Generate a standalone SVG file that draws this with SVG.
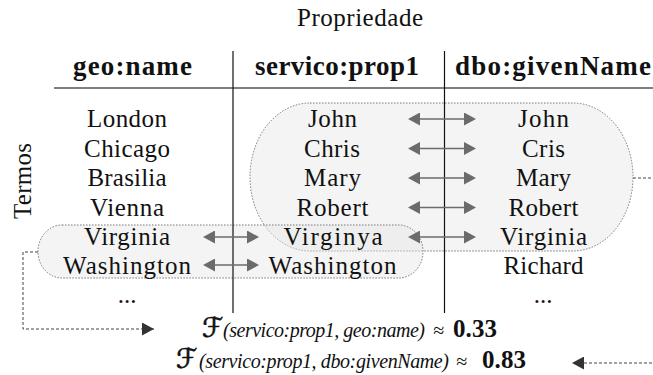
<svg xmlns="http://www.w3.org/2000/svg" width="653" height="375" viewBox="0 0 653 375">
  <style>
    .t { font-family: "Liberation Serif", "Times New Roman", serif; font-size: 25px; fill: #111; }
    .hd { font-family: "Liberation Serif", "Times New Roman", serif; font-size: 27px; font-weight: bold; fill: #111; }
    .it { font-family: "Liberation Serif", "Times New Roman", serif; font-size: 20px; font-style: italic; fill: #111; }
    .bd { font-family: "Liberation Serif", "Times New Roman", serif; font-size: 25px; font-weight: bold; fill: #111; }
    .cal { font-family: "DejaVu Serif", "DejaVu Sans", serif; font-size: 27px; fill: #111; stroke: #111; stroke-width: 0.6; }
    .blob { fill: #e6e6e6; fill-opacity: 0.45; stroke: #777; stroke-width: 1; stroke-dasharray: 1.5 1.5; }
    .rule { stroke: #111; stroke-width: 1.2; }
    .pair { stroke: #6b6b6b; stroke-width: 1.6; fill: none; marker-start: url(#pairHead); marker-end: url(#pairHead); }
    .link { stroke: #444; stroke-width: 1; stroke-dasharray: 3 2; fill: none; marker-end: url(#linkHead); }
  </style>
  <defs>
    <marker id="pairHead" markerUnits="userSpaceOnUse" markerWidth="12" markerHeight="13" refX="9" refY="6.5" orient="auto-start-reverse">
      <path d="M0,0 L12,6.5 L0,13 Z" fill="#6b6b6b"/>
    </marker>
    <marker id="linkHead" markerUnits="userSpaceOnUse" markerWidth="12" markerHeight="13" refX="12" refY="6.5" orient="auto">
      <path d="M0,0 L12,6.5 L0,13 Z" fill="#333"/>
    </marker>
  </defs>

  <!-- grouping blobs -->
  <g id="group-names">
    <rect class="blob" x="250" y="103" width="383" height="148" rx="60" ry="74"/>
  </g>
  <g id="group-places">
    <rect class="blob" x="38" y="225" width="385" height="53" rx="24" ry="26.5"/>
  </g>

  <!-- table frame -->
  <g id="table-frame">
    <line x1="54" y1="88" x2="653" y2="88" stroke="#555" stroke-width="1.6"/>
    <line class="rule" x1="233" y1="51" x2="233" y2="313"/>
    <line class="rule" x1="444.5" y1="51" x2="444.5" y2="313"/>
  </g>

  <g id="title">
    <text class="t" x="297" y="26" textLength="126" lengthAdjust="spacing">Propriedade</text>
  </g>
  <g id="axis-terms">
    <text class="t" transform="translate(31,181) rotate(-90)" x="-38" y="0" textLength="76" lengthAdjust="spacing">Termos</text>
  </g>

  <g id="col-geo">
    <text class="hd" x="73" y="75" textLength="119" lengthAdjust="spacing">geo:name</text>
    <text class="t" x="87" y="127" textLength="80" lengthAdjust="spacing">London</text>
    <text class="t" x="84" y="156.5" textLength="86" lengthAdjust="spacing">Chicago</text>
    <text class="t" x="87.5" y="186" textLength="79" lengthAdjust="spacing">Brasilia</text>
    <text class="t" x="90" y="215.5" textLength="74" lengthAdjust="spacing">Vienna</text>
    <text class="t" x="84" y="245" textLength="86" lengthAdjust="spacing">Virginia</text>
    <text class="t" x="63" y="274" textLength="128" lengthAdjust="spacing">Washington</text>
    <text class="t" x="127" y="303" text-anchor="middle">...</text>
  </g>

  <g id="col-servico">
    <text class="hd" x="255" y="75" textLength="164" lengthAdjust="spacing">servico:prop1</text>
    <text class="t" x="308" y="127" textLength="49" lengthAdjust="spacing">John</text>
    <text class="t" x="304" y="156.5" textLength="56" lengthAdjust="spacing">Chris</text>
    <text class="t" x="304" y="186" textLength="57" lengthAdjust="spacing">Mary</text>
    <text class="t" x="296.5" y="215.5" textLength="72" lengthAdjust="spacing">Robert</text>
    <text class="t" x="283.5" y="245" textLength="99" lengthAdjust="spacing">Virginya</text>
    <text class="t" x="268.5" y="274" textLength="128" lengthAdjust="spacing">Washington</text>
  </g>

  <g id="col-dbo">
    <text class="hd" x="455" y="75" textLength="196" lengthAdjust="spacing">dbo:givenName</text>
    <text class="t" x="518" y="127" textLength="51" lengthAdjust="spacing">John</text>
    <text class="t" x="522" y="156.5" textLength="43" lengthAdjust="spacing">Cris</text>
    <text class="t" x="516" y="186" textLength="55" lengthAdjust="spacing">Mary</text>
    <text class="t" x="508.5" y="215.5" textLength="70" lengthAdjust="spacing">Robert</text>
    <text class="t" x="500" y="245" textLength="87" lengthAdjust="spacing">Virginia</text>
    <text class="t" x="503.5" y="274" textLength="80" lengthAdjust="spacing">Richard</text>
    <text class="t" x="543" y="303" text-anchor="middle">...</text>
  </g>

  <g id="formula-geo">
    <text class="cal" x="202" y="337">ℱ</text>
    <text class="it" x="223" y="337" textLength="202" lengthAdjust="spacing">(servico:prop1, geo:name)</text>
    <text class="it" x="433" y="337">≈</text>
    <text class="bd" x="453" y="337" textLength="44" lengthAdjust="spacing">0.33</text>
  </g>
  <g id="formula-dbo">
    <text class="cal" x="176" y="368">ℱ</text>
    <text class="it" x="199" y="368" textLength="250" lengthAdjust="spacing">(servico:prop1, dbo:givenName)</text>
    <text class="it" x="456" y="368">≈</text>
    <text class="bd" x="482" y="368" textLength="44" lengthAdjust="spacing">0.83</text>
  </g>

  <!-- connectors -->
  <g id="connectors">
    <line class="pair" x1="206" y1="237" x2="256" y2="237"/>
    <line class="pair" x1="206" y1="265" x2="256" y2="265"/>
    <line class="pair" x1="411" y1="119" x2="473" y2="119"/>
    <line class="pair" x1="411" y1="148.5" x2="473" y2="148.5"/>
    <line class="pair" x1="411" y1="178" x2="473" y2="178"/>
    <line class="pair" x1="411" y1="207.5" x2="473" y2="207.5"/>
    <line class="pair" x1="411" y1="237" x2="473" y2="237"/>
    <path class="link" d="M38,252 H23 V329 H154"/>
    <path class="link" d="M633,178 H660 V363 H572"/>
  </g>
</svg>
